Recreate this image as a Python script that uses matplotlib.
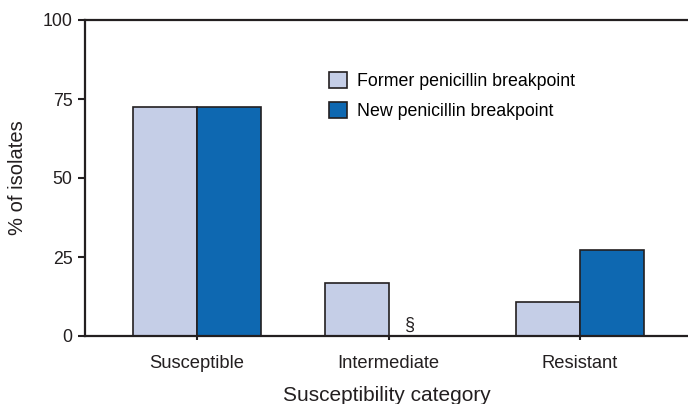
import numpy as np
import matplotlib.pyplot as plt
from matplotlib.patches import Patch

plt.rcParams['font.family'] = ['Liberation Sans', 'DejaVu Sans']

# Datos
categorias = ['Susceptible', 'Intermediate', 'Resistant']
anterior = [72.5, 16.8, 10.8]
nuevo = [72.5, 0.0, 27.3]
series = ['Former penicillin breakpoint', 'New penicillin breakpoint']
color_claro = '#c5cee7'
color_oscuro = '#0e68b1'
borde = '#231f20'

fig = plt.figure(figsize=(6.88, 4.04), dpi=100)
ax = fig.add_axes([85/688, 68/404, 603/688, 316/404])

x = np.arange(len(categorias))
w = 0.334
ax.bar(x - w/2, anterior, w, color=color_claro, edgecolor=borde, linewidth=1.2, zorder=2)
ax.bar(x + w/2, nuevo, w, color=color_oscuro, edgecolor=borde, linewidth=1.2, zorder=2)

# Marca para el valor sin dato
ax.text(1.11, 0.6, '§', ha='center', va='bottom', fontsize=13, color='#231f20')

ax.set_xlim(-0.585, 2.564)
ax.set_ylim(0, 100)
ax.set_yticks([0, 25, 50, 75, 100])
ax.set_xticks(x)
ax.set_xticklabels(categorias)

for s in ['left', 'top', 'bottom']:
    ax.spines[s].set_linewidth(1.6)
    ax.spines[s].set_color(borde)
ax.spines['right'].set_visible(False)

ax.tick_params(axis='y', length=5, width=1.5, colors=borde, labelsize=12.8, pad=4, labelcolor='#231f20')
ax.tick_params(axis='x', length=3, width=1.5, colors=borde, labelsize=13.2, pad=11, labelcolor='#231f20')

ax.set_xlabel('Susceptibility category', fontsize=15, color='#231f20', labelpad=10)
ax.set_ylabel('% of isolates', fontsize=14.5, color='#231f20')
ax.yaxis.set_label_coords(-0.097, 0.5)

handles = [Patch(facecolor=color_claro, edgecolor=borde, linewidth=1.2),
           Patch(facecolor=color_oscuro, edgecolor=borde, linewidth=1.2)]
fig.legend(handles, series, loc='upper left', bbox_to_anchor=(329/688, (404-72)/404),
           frameon=False, fontsize=12.8, handlelength=1.0, handleheight=1.0,
           handletextpad=0.6, labelspacing=0.65, borderpad=0, borderaxespad=0)

fig.savefig('out.png', dpi=100)
